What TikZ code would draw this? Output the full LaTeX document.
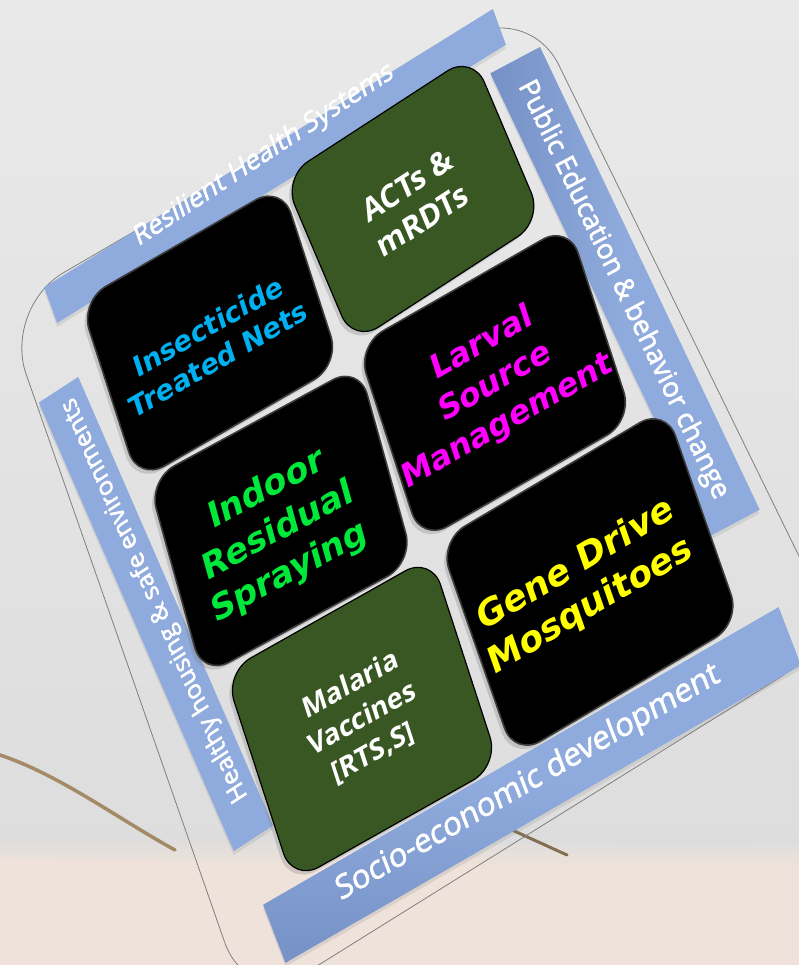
\documentclass[tikz,border=0pt]{standalone}
\usepackage{fontspec}
\newfontfamily\tilefont{DejaVu Sans}
\newfontfamily\bandfont{Open Sans}[FakeBold=2]
\newfontfamily\greenfont{Open Sans}
\usetikzlibrary{shadows}
\definecolor{bandblue}{HTML}{8FAADC}
\definecolor{banddark}{HTML}{7691C6}
\definecolor{tilegreen}{HTML}{385723}
\definecolor{txtcyan}{HTML}{00B0F0}
\definecolor{txtgreen}{HTML}{00E83A}
\definecolor{txtmagenta}{HTML}{FF00FF}
\definecolor{txtyellow}{HTML}{FFFF00}
\definecolor{bgtop}{HTML}{E9E9E9}
\definecolor{bgmid}{HTML}{DDDDDD}
\definecolor{skin}{HTML}{EFE2DA}
\definecolor{legcol}{HTML}{A48A66}
\definecolor{frameline}{HTML}{7F7F7F}
\definecolor{tilerim}{HTML}{3C3C3C}
\begin{document}
\begin{tikzpicture}[x=1pt,y=1pt,
  frameat/.style n args={4}{shift={({#1},{965-(#2)})}, rotate={#3}, yscale={cos((#3)-(#4))}, xslant={sin((#3)-(#4))}},
  tile/.style={transform shape, rounded corners=30pt, inner sep=0pt},
  darktile/.style={tile, fill=black, draw=tilerim, line width=1.6pt, drop shadow={shadow xshift=-3pt, shadow yshift=-4pt, opacity=.3}},
  greentile/.style={tile, fill=tilegreen, draw=black, line width=1.2pt, drop shadow={shadow xshift=-3pt, shadow yshift=-4pt, opacity=.3}},
  tiletext/.style={transform shape, align=center, inner sep=0pt},
  band/.style={transform shape, fill=bandblue, inner sep=0pt, drop shadow={shadow xshift=0pt, shadow yshift=-4pt, opacity=.18}},
  bandtext/.style={transform shape, text=white, inner sep=0pt},
]
\useasboundingbox (0,0) rectangle (799,965);
\clip (0,0) rectangle (799,965);
% background
\shade[top color=bgtop, bottom color=bgmid] (0,100) rectangle (799,965);
\fill[skin] (0,0) -- (0,108) .. controls (250,104) and (520,98) .. (799,100) -- (799,0) -- cycle;
\shade[top color=bgmid, bottom color=skin] (0,128) .. controls (250,124) and (520,118) .. (799,120) -- (799,99) .. controls (520,97) and (250,103) .. (0,107) -- cycle;
\draw[legcol, line width=3.5pt, line cap=round] (0,210) .. controls (60,190) and (120,145) .. (175,115);
\draw[legcol!80!black, line width=3pt, line cap=round] (512,135) -- (567,110);
% outer frame
\coordinate (fTL) at (3,657);
\coordinate (fTR) at (528,963);
\coordinate (fBR) at (840,325);
\coordinate (fBL) at (248,-44);
\draw[frameline, line width=0.8pt, rounded corners=70pt] (fTL) -- (fTR) -- (fBR) -- (fBL) -- cycle;
% bands
\node[band, frameat={275}{166}{31.8}{20}, minimum width=528pt, minimum height=38pt] (bandTop) {};
\node[band, frameat={625}{291.5}{28}{25.4}, minimum width=56pt, minimum height=512pt, left color=banddark, right color=bandblue, middle color=bandblue] (bandRight) {};
\node[band, frameat={156}{614}{33}{23.5}, minimum width=47pt, minimum height=489pt] (bandLeft) {};
\node[band, frameat={532}{785}{30}{21}, minimum width=595pt, minimum height=62pt, top color=bandblue, bottom color=banddark, middle color=bandblue] (bandBottom) {};
\node[bandtext, frameat={264}{155}{33.5}{20}, font=\bandfont\fontsize{27}{32}\selectfont] (txtTop) {Resilient Health Systems};
\node[bandtext, frameat={623}{290}{28}{25.4}, rotate=-90, font=\bandfont\fontsize{27.5}{32}\selectfont] (txtRight) {Public Education \& behavior change};
\node[bandtext, frameat={155}{600}{33}{23.5}, rotate=90, font=\bandfont\fontsize{25}{30}\selectfont] (txtLeft) {Healthy housing \& safe environments};
\node[bandtext, frameat={528}{783}{30}{21}, font=\bandfont\fontsize{32}{38}\selectfont] (txtBottom) {Socio-economic development};
% tiles
\node[darktile, frameat={210}{333}{30}{18}, minimum width=233pt, minimum height=189pt] (itn) {};
\node[tiletext, frameat={210}{333}{30}{18}, shift={(0,-10)}, text=txtcyan, font=\tilefont\bfseries\fontsize{28}{34}\selectfont] (itnText) {Insecticide\\Treated Nets};
\node[greentile, frameat={413}{199}{33}{23}, minimum width=226pt, minimum height=180pt] (act) {};
\node[tiletext, frameat={413}{199}{33}{23}, shift={(0,-4)}, text=white, font=\greenfont\bfseries\fontsize{31}{38}\selectfont] (actText) {ACTs \&\\mRDTs};
\node[darktile, frameat={281}{521}{28.5}{15.5}, minimum width=240pt, minimum height=204pt] (irs) {};
\node[tiletext, frameat={281}{521}{28.5}{15.5}, shift={(-6,-8)}, text=txtgreen, font=\tilefont\bfseries\fontsize{35}{43}\selectfont] (irsText) {Indoor\\Residual\\Spraying};
\node[darktile, frameat={495}{383}{29.8}{18.2}, minimum width=244pt, minimum height=206pt] (lsm) {};
\node[tiletext, frameat={495}{383}{29.8}{18.2}, text=txtmagenta, font=\tilefont\bfseries\fontsize{32.5}{41}\selectfont] (lsmText) {Larval\\Source\\Management};
\node[greentile, frameat={362}{719}{29.4}{18}, minimum width=237pt, minimum height=220pt] (vac) {};
\node[tiletext, frameat={362}{719}{29.4}{18}, text=white, font=\greenfont\bfseries\fontsize{28}{36}\selectfont] (vacText) {Malaria\\Vaccines\\{[RTS,S]}};
\node[darktile, frameat={590}{582}{30.6}{19.3}, minimum width=263pt, minimum height=228pt] (gdm) {};
\node[tiletext, frameat={590}{582}{30.6}{19.3}, shift={(-8,0)}, text=txtyellow, font=\tilefont\bfseries\fontsize{36}{44}\selectfont] (gdmText) {Gene Drive\\Mosquitoes};
\end{tikzpicture}
\end{document}
